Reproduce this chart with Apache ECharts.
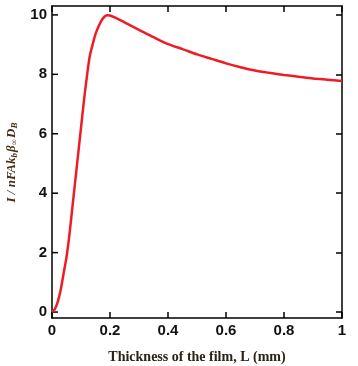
<!DOCTYPE html>
<html>
<head>
<meta charset="utf-8">
<script src="https://cdn.jsdelivr.net/npm/echarts@6/dist/echarts.min.js"></script>
<style>
  html, body { margin: 0; padding: 0; background: #fff; }
  #chart { width: 358px; height: 366px; }
</style>
</head>
<body>
<div id="chart"></div>
<script>
// film thickness L (mm) and normalised current
const thickness = [0, 0.01, 0.02, 0.03, 0.04, 0.05, 0.06, 0.07, 0.08, 0.09, 0.10, 0.11, 0.12, 0.13, 0.14, 0.15, 0.16, 0.17, 0.18, 0.19, 0.20, 0.22, 0.25, 0.30, 0.35, 0.40, 0.45, 0.50, 0.55, 0.60, 0.65, 0.70, 0.75, 0.80, 0.85, 0.90, 0.95, 1.00];
const current = [0, 0.1, 0.35, 0.75, 1.3, 1.85, 2.6, 3.5, 4.4, 5.3, 6.2, 7.1, 7.9, 8.6, 9.0, 9.35, 9.6, 9.8, 9.93, 9.99, 9.98, 9.9, 9.75, 9.5, 9.25, 9.02, 8.85, 8.67, 8.52, 8.37, 8.24, 8.13, 8.05, 7.98, 7.92, 7.86, 7.82, 7.78];
const xTicks = [0, 0.2, 0.4, 0.6, 0.8, 1];
const yTicks = [0, 2, 4, 6, 8, 10];

const X_MIN = 0, X_MAX = 1, Y_MIN = -0.2, Y_MAX = 10.3;

const chart = echarts.init(document.getElementById('chart'));

const tickFont = {
    color: '#111',
    fontFamily: 'Liberation Sans, Arial, sans-serif',
    fontWeight: 'bold',
    fontSize: 15,
};
const boxLine = { onZero: false, lineStyle: { color: '#000', width: 1.5 } };
const inTick = { show: true, inside: true, length: 6, lineStyle: { color: '#000', width: 1.5 } };
const TICK_LEN = 6;

// inward ticks on the bottom / left sides, placed through the axis scales
const tickSeries = (vals, side) => ({
    type: 'custom',
    silent: true,
    clip: false,
    z: 3,
    data: vals.map(v => side === 'bottom' ? [v, Y_MIN] : [X_MIN, v]),
    renderItem: (params, api) => {
        const p = api.coord([api.value(0), api.value(1)]);
        const end = side === 'bottom' ? [p[0], p[1] - TICK_LEN] : [p[0] + TICK_LEN, p[1]];
        return {
            type: 'line',
            shape: { x1: p[0], y1: p[1], x2: end[0], y2: end[1] },
            style: { stroke: '#000', lineWidth: 1.5 },
        };
    },
});

const option = {
    backgroundColor: '#fff',
    animation: false,
    grid: { left: 52, right: 16, top: 6, bottom: 48, containLabel: false, outerBoundsMode: 'none' },
    xAxis: [
        {
            type: 'value',
            position: 'bottom',
            min: X_MIN,
            max: X_MAX,
            name: 'Thickness of the film, L (mm)',
            nameLocation: 'middle',
            nameGap: 32,
            nameTextStyle: {
                color: '#2b2218',
                fontFamily: 'Liberation Serif, Times New Roman, serif',
                fontWeight: 'bold',
                fontSize: 14,
            },
            axisLine: boxLine,
            axisTick: { show: false },
            axisLabel: Object.assign({ margin: 5, customValues: xTicks, formatter: v => String(v) }, tickFont),
            splitLine: { show: false },
        },
        {
            type: 'value',
            position: 'top',
            min: X_MIN,
            max: X_MAX,
            axisLine: boxLine,
            axisTick: Object.assign({ customValues: xTicks }, inTick),
            axisLabel: { show: false },
            splitLine: { show: false },
        },
    ],
    yAxis: [
        {
            type: 'value',
            position: 'left',
            min: Y_MIN,
            max: Y_MAX,
            name: '{n|I / nFAk}{s|b}{n|β}{s|∞}{n|D}{s|B}',
            nameLocation: 'middle',
            nameRotate: 90,
            nameGap: 28,
            nameTextStyle: {
                rich: {
                    n: {
                        color: '#4a2e14',
                        fontFamily: 'Liberation Serif, Times New Roman, serif',
                        fontStyle: 'italic',
                        fontWeight: 'bold',
                        fontSize: 13,
                    },
                    s: {
                        color: '#4a2e14',
                        fontFamily: 'Liberation Serif, Times New Roman, serif',
                        fontStyle: 'italic',
                        fontWeight: 'bold',
                        fontSize: 9,
                        padding: [6, 1, 0, 0],
                    },
                },
            },
            axisLine: boxLine,
            axisTick: { show: false },
            axisLabel: Object.assign({ margin: 5, customValues: yTicks }, tickFont),
            splitLine: { show: false },
        },
        {
            type: 'value',
            position: 'right',
            min: Y_MIN,
            max: Y_MAX,
            axisLine: boxLine,
            axisTick: Object.assign({ customValues: yTicks }, inTick),
            axisLabel: { show: false },
            splitLine: { show: false },
        },
    ],
    series: [
        {
            type: 'line',
            xAxisIndex: 0,
            yAxisIndex: 0,
            data: thickness.map((x, i) => [x, current[i]]),
            smooth: 0.3,
            showSymbol: false,
            lineStyle: { color: '#ee1c24', width: 2.5 },
        },
        tickSeries(xTicks, 'bottom'),
        tickSeries(yTicks, 'left'),
    ],
};

chart.setOption(option);
</script>
</body>
</html>
